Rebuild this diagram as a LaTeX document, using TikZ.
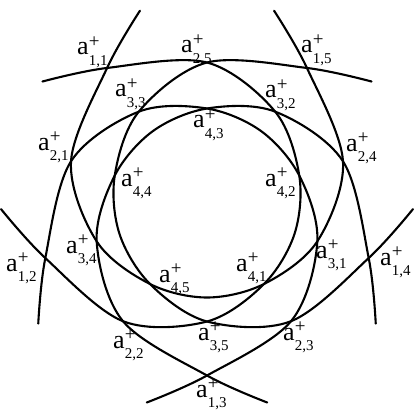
\documentclass[tikz,border=0pt]{standalone}
\usepackage{fontspec}
\setmainfont{Liberation Serif}
\newcommand{\albl}[1]{\fontsize{26}{26}\selectfont a\kern0.3pt\rlap{\raisebox{7.8pt}{\fontsize{19}{19}\selectfont +}}\raisebox{-10.3pt}{\fontsize{15}{15}\selectfont #1}}
\begin{document}
\begin{tikzpicture}[x=1pt,y=1pt,
  curve/.style={line width=2.1pt, line cap=round, line join=round},
  lab/.style={inner sep=0pt, outer sep=0pt, anchor=base west}]
\useasboundingbox (0,0) rectangle (413,-414);
\foreach \t in {90,162,234,306,18}{
  \begin{scope}[shift={(207,-205.5)}, rotate=\t]
    \draw[curve] plot[smooth, tension=0.55] coordinates {(-19:206) (-36:170) (-72:143) (-108:116) (-144:97) (180:92) (144:97) (108:116) (72:143) (36:170) (19:206)};
  \end{scope}
}
\node[lab] (l11) at (77,-55) {\albl{1,1}};
\node[lab] (l25) at (181,-53) {\albl{2,5}};
\node[lab] (l15) at (301,-53) {\albl{1,5}};
\node[lab] (l33) at (115,-97) {\albl{3,3}};
\node[lab] (l32) at (265,-98) {\albl{3,2}};
\node[lab] (l43) at (193,-128) {\albl{4,3}};
\node[lab] (l21) at (38,-150) {\albl{2,1}};
\node[lab] (l24) at (346,-151) {\albl{2,4}};
\node[lab] (l44) at (121,-186) {\albl{4,4}};
\node[lab] (l42) at (265,-186) {\albl{4,2}};
\node[lab] (l12) at (6,-271) {\albl{1,2}};
\node[lab] (l34) at (66,-253) {\albl{3,4}};
\node[lab] (l45) at (159,-282) {\albl{4,5}};
\node[lab] (l41) at (236,-271) {\albl{4,1}};
\node[lab] (l31) at (316,-258) {\albl{3,1}};
\node[lab] (l14) at (380,-265) {\albl{1,4}};
\node[lab] (l22) at (113,-348) {\albl{2,2}};
\node[lab] (l35) at (198,-340) {\albl{3,5}};
\node[lab] (l23) at (283,-340) {\albl{2,3}};
\node[lab] (l13) at (196,-397) {\albl{1,3}};
\end{tikzpicture}
\end{document}
